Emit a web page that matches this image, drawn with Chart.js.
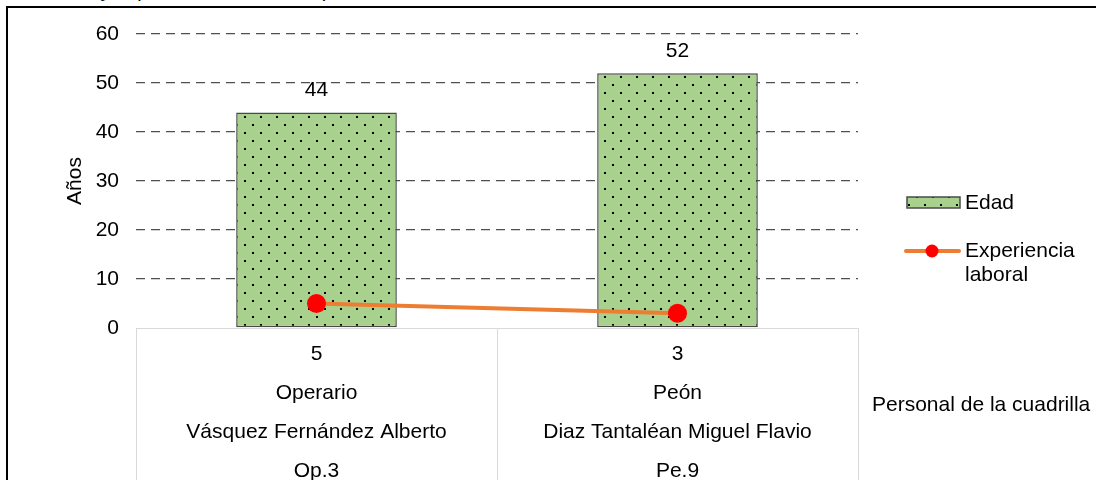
<!DOCTYPE html>
<html><head><meta charset="utf-8">
<script src="https://cdn.jsdelivr.net/npm/chart.js@4.4.1/dist/chart.umd.min.js"></script>
<style>
html,body{margin:0;padding:0;background:#fff;overflow:hidden;}
#wrap{position:relative;width:1096px;height:480px;overflow:hidden;background:#fff;}
#frame{position:absolute;left:6px;top:6px;width:1200px;height:600px;border-top:2px solid #000;border-left:2px solid #000;}
#cap{position:absolute;left:50px;top:-22px;font:italic 20px "Liberation Sans",Arial,sans-serif;white-space:nowrap;color:#000;line-height:24px;}
canvas{position:absolute;left:0;top:0;}
</style></head><body>
<div id="wrap">
<div id="cap">Edad y experiencia laboral del personal de la cuadrilla</div>
<div id="frame"></div>
<canvas id="c" width="1096" height="480"></canvas>
</div>
<script>
// ---- data ----
const experiencia = [5, 3];
const cargos = ["Operario", "Peón"];
const nombres = ["Vásquez Fernández Alberto", "Diaz Tantaléan Miguel Flavio"];
const codigos = ["Op.3", "Pe.9"];
const edad = [44, 52];
const yTicks = [0, 10, 20, 30, 40, 50, 60];
const serieBarras = "Edad";
const serieLinea = ["Experiencia", "laboral"];
const tituloX = "Personal de la cuadrilla";
const tituloY = "Años";

const FONT = '"Liberation Sans", Arial, sans-serif';
const FS = 21;
const labels = experiencia.map((e, i) => [String(e), cargos[i], nombres[i], codigos[i]]);

function makePattern() {
  const c = document.createElement('canvas');
  c.width = 16; c.height = 16;
  const g = c.getContext('2d');
  g.fillStyle = '#a9d18e';
  g.fillRect(0, 0, 16, 16);
  g.fillStyle = '#000';
  g.fillRect(4, 4, 2, 2);
  g.fillRect(12, 12, 2, 2);
  return g.createPattern(c, 'repeat');
}
const pattern = makePattern();

const extras = {
  id: 'extras',
  afterDatasetsDraw(chart) {
    const ctx = chart.ctx;
    ctx.save();
    ctx.font = FS + 'px ' + FONT;
    ctx.fillStyle = '#000';
    ctx.textAlign = 'center';
    ctx.textBaseline = 'middle';
    const meta = chart.getDatasetMeta(1);
    meta.data.forEach((bar, i) => {
      ctx.fillText(String(edad[i]), bar.x, bar.y - 22);
    });
    // legend
    const bds = chart.data.datasets[1];
    const lds = chart.data.datasets[0];
    ctx.fillStyle = bds.backgroundColor;
    ctx.fillRect(907, 197, 53, 11);
    ctx.strokeStyle = bds.borderColor;
    ctx.lineWidth = 1.5;
    ctx.strokeRect(907, 197, 53, 11);
    ctx.fillStyle = '#000';
    ctx.textAlign = 'left';
    ctx.fillText(serieBarras, 965, 203);
    ctx.strokeStyle = lds.borderColor;
    ctx.lineWidth = 4;
    ctx.lineCap = 'round';
    ctx.beginPath(); ctx.moveTo(906, 251); ctx.lineTo(959, 251); ctx.stroke();
    ctx.fillStyle = lds.pointBackgroundColor;
    ctx.beginPath(); ctx.arc(932, 251, 6.5, 0, Math.PI * 2); ctx.fill();
    ctx.fillStyle = '#000';
    ctx.fillText(serieLinea[0], 965, 251);
    ctx.fillText(serieLinea[1], 965, 275);
    // x axis title
    ctx.fillText(tituloX, 872, 405);
    ctx.restore();
  }
};

new Chart(document.getElementById('c'), {
  type: 'bar',
  data: {
    labels: labels,
    datasets: [
      {
        type: 'line', label: serieLinea.join(' '), data: experiencia,
        borderColor: '#ed7d31', borderWidth: 4,
        pointBackgroundColor: '#ff0000', pointBorderColor: '#ff0000', pointBorderWidth: 0,
        pointRadius: 9.5, order: 0
      },
      {
        type: 'bar', label: serieBarras, data: edad,
        backgroundColor: pattern, borderColor: '#4a4a4a', borderWidth: 1.5,
        borderSkipped: false, barPercentage: 0.445, categoryPercentage: 1, order: 1
      }
    ]
  },
  options: {
    responsive: false, animation: false,
    layout: { padding: { left: 0, top: 34, right: 238, bottom: 0 } },
    plugins: { legend: { display: false }, tooltip: { enabled: false } },
    scales: {
      x: {
        offset: true,
        grid: { offset: true, drawOnChartArea: false, color: '#d9d9d9', tickLength: 152, lineWidth: 1 },
        border: { color: '#d9d9d9', width: 1 },
        ticks: { font: { family: FONT, size: FS, lineHeight: 39 / FS }, color: '#000', padding: -145, maxRotation: 0, autoSkip: false },
        afterFit: s => { s.height = 152; }
      },
      y: {
        min: yTicks[0], max: yTicks[yTicks.length - 1],
        afterBuildTicks: s => { s.ticks = yTicks.map(v => ({ value: v })); },
        ticks: { padding: 17, font: { family: FONT, size: FS }, color: '#000' },
        grid: { drawTicks: false, lineWidth: 1.3, color: c => (c.tick && c.tick.value === 0) ? 'rgba(0,0,0,0)' : '#505050' },
        border: { display: false, dash: [9, 6] },
        title: { display: true, text: tituloY, font: { family: FONT, size: FS }, color: '#000', padding: { top: 63, bottom: 0 } },
        afterFit: s => { s.width = 136; }
      }
    }
  },
  plugins: [extras]
});
</script>
</body></html>
